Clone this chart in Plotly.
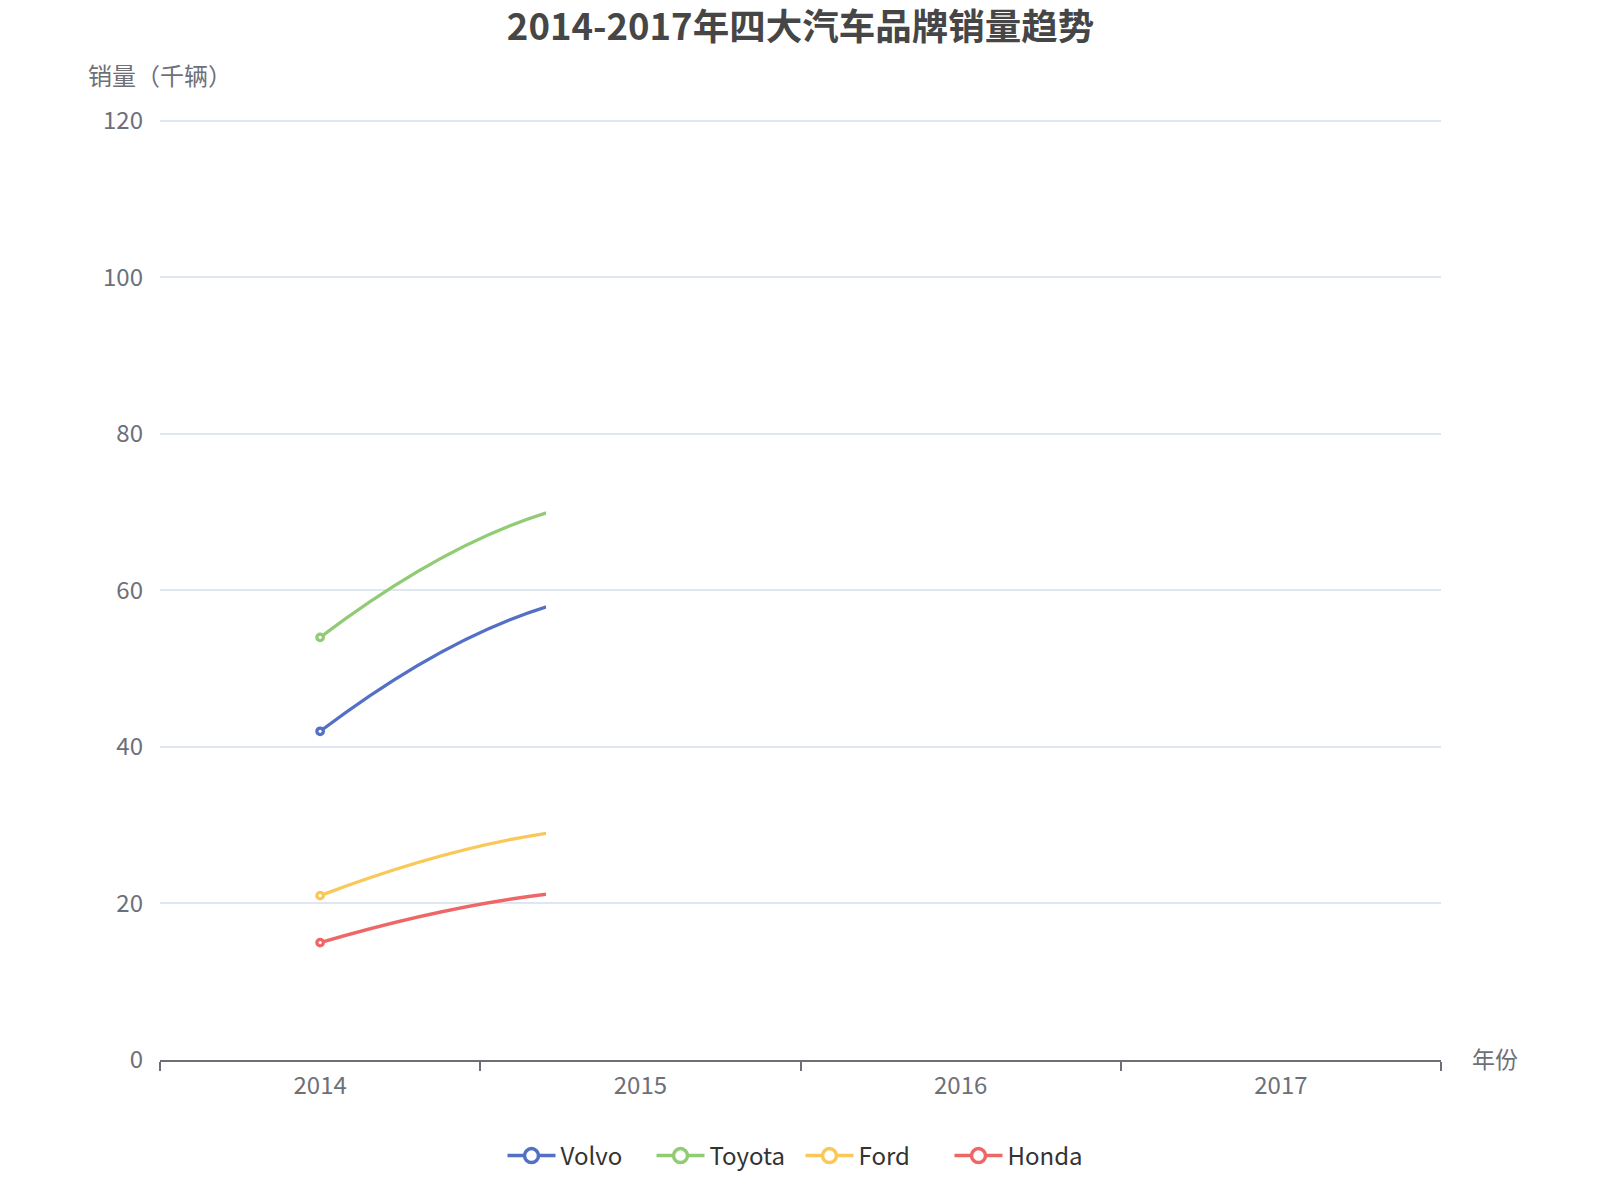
import plotly.graph_objects as go

# data (the reference is caught mid-animation: only 2014 -> ~2014.7 is drawn,
# later values are estimates that only shape the visible part of the curves)
years = ['2014', '2015', '2016', '2017']
volvo = [42, 60, 45, 52]
toyota = [54, 72, 57, 64]
ford = [21, 30, 22, 25]
honda = [15, 22, 16, 18]

series = [('Volvo', volvo, '#5470c6'),
          ('Toyota', toyota, '#91cc75'),
          ('Ford', ford, '#fac858'),
          ('Honda', honda, '#ee6666')]

FONT = 'Noto Sans CJK SC, Noto Sans, sans-serif'
AXIS_GREY = '#6E7079'
W, H = 1600, 1200
Y_MAX = 121  # a bit above 120 so plotly keeps the top grid line
L, R, B = 152, 1433, 1052
T = B - (B - 113) * Y_MAX / 120
reveal = 0.3013  # share of the plot width the line animation has reached

fig = go.Figure()

# invisible trace so the main category axis is laid out
fig.add_trace(go.Scatter(x=years, y=[None] * 4, xaxis='x', yaxis='y',
                         showlegend=False, hoverinfo='skip'))

for name, vals, color in series:
  fig.add_trace(go.Scatter(
    x=years, y=vals, name=name, xaxis='x2', yaxis='y',
    mode='lines+markers', showlegend=False,
    line=dict(color=color, width=3.3, shape='spline', smoothing=1.3),
    marker=dict(symbol='circle', size=6.5, color='white',
                line=dict(color=color, width=3.3)),
  ))

# legend entries with larger symbols, like the echarts legend
for name, vals, color in series:
  fig.add_trace(go.Scatter(
    x=[None], y=[None], name=name, xaxis='x2', yaxis='y',
    mode='lines+markers', showlegend=True,
    line=dict(color=color, width=3.5),
    marker=dict(symbol='circle', size=14, color='white',
                line=dict(color=color, width=3.5)),
  ))

fig.update_layout(
  width=W, height=H,
  margin=dict(l=L, r=W - R, t=T, b=H - B, pad=0),
  paper_bgcolor='white', plot_bgcolor='white',
  font=dict(family=FONT, color=AXIS_GREY, size=24),
  title=dict(text='<b>2014-2017年四大汽车品牌销量趋势</b>', x=0.5, xref='paper',
             xanchor='center', y=1 - 19 / H, yanchor='middle',
             font=dict(size=36.5, color='#464646', family=FONT)),
  xaxis=dict(type='category', categoryorder='array', categoryarray=years,
             range=[-0.5, 3.5], domain=[0, 1],
             showgrid=False, zeroline=False,
             showline=True, linecolor=AXIS_GREY, linewidth=1.8,
             ticks='outside', tickson='boundaries', ticklen=9,
             tickcolor=AXIS_GREY, tickwidth=1.8,
             tickfont=dict(size=24, color=AXIS_GREY), ticklabelstandoff=3),
  xaxis2=dict(type='category', categoryorder='array', categoryarray=years,
              range=[-0.5, -0.5 + 4 * reveal], domain=[0, reveal],
              anchor='y', visible=False, fixedrange=True),
  yaxis=dict(range=[0, Y_MAX], tickvals=[0, 20, 40, 60, 80, 100, 120],
             showgrid=True, gridcolor='#E0E6F1',
             gridwidth=1.5, zeroline=False, showline=False,
             tickfont=dict(size=24, color=AXIS_GREY), ticklabelstandoff=16),
  legend=dict(orientation='h', x=0.5, xanchor='center', xref='paper',
              y=-(1148 - B) / (B - T), yanchor='middle',
              font=dict(size=24, color='#333333'), itemwidth=48,
              entrywidth=86, entrywidthmode='pixels',
              tracegroupgap=0, bgcolor='rgba(0,0,0,0)'),
  annotations=[
    dict(text='销量（千辆）', xref='paper', yref='paper',
         x=(152 - L) / (R - L), y=(B - 67) / (B - T),
         xanchor='center', yanchor='middle', showarrow=False,
         font=dict(size=24, color=AXIS_GREY)),
    dict(text='年份', xref='paper', yref='paper',
         x=(1462 - L) / (R - L), y=(B - 1050) / (B - T),
         xanchor='left', yanchor='middle',
         showarrow=False, font=dict(size=23, color=AXIS_GREY)),
  ],
)

fig.write_html('out.html')
